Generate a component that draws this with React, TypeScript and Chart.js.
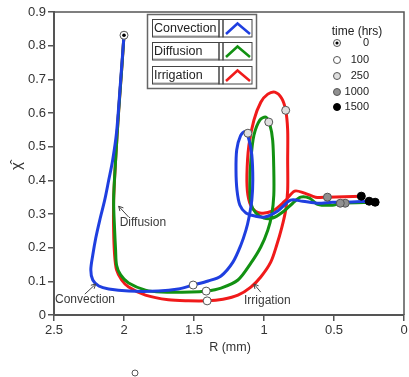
import { useEffect, useRef } from 'react';
import { Chart, registerables } from 'chart.js';

Chart.register(...registerables);

const FAMILY = "'Liberation Sans', Arial, sans-serif";

const seriesNames = ['Convection', 'Diffusion', 'Irrigation'];
const seriesColors = ['#1f3fe0', '#129112', '#f01a1a'];

// Convection (blue)
const convectionR = [2.0, 2.024, 2.053, 2.081, 2.109, 2.138, 2.173, 2.202, 2.223, 2.237, 2.223, 2.18, 2.109, 1.967, 1.754, 1.612, 1.506, 1.399, 1.307, 1.222, 1.165, 1.129, 1.108, 1.087, 1.08, 1.087, 1.108, 1.135, 1.168, 1.195, 1.2, 1.193, 1.172, 1.129, 1.065, 0.994, 0.902, 0.81, 0.724, 0.618, 0.511, 0.419, 0.249];
const convectionChi = [0.831, 0.697, 0.543, 0.46, 0.401, 0.341, 0.282, 0.228, 0.178, 0.134, 0.104, 0.086, 0.077, 0.071, 0.071, 0.077, 0.089, 0.101, 0.116, 0.157, 0.208, 0.252, 0.288, 0.341, 0.401, 0.475, 0.522, 0.545, 0.532, 0.49, 0.43, 0.371, 0.326, 0.303, 0.294, 0.291, 0.309, 0.341, 0.338, 0.332, 0.335, 0.335, 0.338];

// Diffusion (green)
const diffusionR = [2.0, 2.017, 2.038, 2.06, 2.074, 2.067, 2.06, 2.053, 2.024, 1.967, 1.847, 1.733, 1.52, 1.413, 1.307, 1.186, 1.094, 1.023, 0.973, 0.945, 0.93, 0.93, 0.938, 0.959, 0.987, 1.03, 1.072, 1.094, 1.101, 1.094, 1.058, 1.001, 0.938, 0.866, 0.795, 0.739, 0.675, 0.618, 0.511, 0.455, 0.206];
const diffusionChi = [0.831, 0.727, 0.608, 0.46, 0.341, 0.252, 0.193, 0.148, 0.119, 0.095, 0.074, 0.068, 0.068, 0.071, 0.08, 0.104, 0.154, 0.202, 0.252, 0.297, 0.356, 0.43, 0.519, 0.567, 0.588, 0.579, 0.534, 0.46, 0.386, 0.332, 0.303, 0.288, 0.288, 0.306, 0.332, 0.35, 0.347, 0.329, 0.326, 0.332, 0.335];

// Irrigation (red)
const irrigationR = [2.0, 2.017, 2.038, 2.06, 2.074, 2.074, 2.067, 2.053, 2.017, 1.967, 1.847, 1.683, 1.541, 1.406, 1.293, 1.186, 1.094, 1.023, 0.952, 0.909, 0.874, 0.845, 0.831, 0.831, 0.831, 0.845, 0.874, 0.923, 0.973, 1.023, 1.072, 1.108, 1.122, 1.115, 1.087, 1.03, 0.938, 0.852, 0.781, 0.71, 0.632, 0.547, 0.305];
const irrigationChi = [0.831, 0.727, 0.608, 0.46, 0.341, 0.252, 0.178, 0.134, 0.104, 0.083, 0.059, 0.045, 0.042, 0.042, 0.047, 0.059, 0.083, 0.113, 0.157, 0.208, 0.258, 0.312, 0.371, 0.46, 0.549, 0.608, 0.644, 0.662, 0.656, 0.632, 0.579, 0.504, 0.415, 0.356, 0.32, 0.303, 0.309, 0.338, 0.368, 0.362, 0.35, 0.35, 0.353];

// time markers (hrs)
const timeLabels = ['0', '100', '250', '1000', '1500'];
const timeFills = ['#ffffff', '#ffffff', '#dedede', '#909090', '#000000'];
const time0R = [2.0];
const time0Chi = [0.831];
const time100R = [1.506, 1.413, 1.406];
const time100Chi = [0.089, 0.071, 0.042];
const time250R = [1.115, 0.966, 0.845];
const time250Chi = [0.54, 0.573, 0.608];
const time1000R = [0.42, 0.455, 0.547];
const time1000Chi = [0.332, 0.332, 0.35];
const time1500R = [0.249, 0.206, 0.305];
const time1500Chi = [0.338, 0.335, 0.353];

// axis ticks
const xTickMin = 0;
const xTickMax = 2.5;
const xTickStep = 0.5;
const yTickMin = 0;
const yTickMax = 0.9;
const yTickStep = 0.1;
const xTitle = 'R (mm)';
const yTitle = 'χ\u0302';
const timeTitle = 'time (hrs)';

// annotations
const annotationLabels = ['Diffusion', 'Convection', 'Irrigation'];
const annotationTextR = [2.031, 2.493, 1.143];
const annotationTextChi = [0.273, 0.045, 0.042];
const arrowFromR = [1.967, 2.28, 1.023];
const arrowFromChi = [0.291, 0.062, 0.068];
const arrowToR = [2.038, 2.202, 1.072];
const arrowToChi = [0.323, 0.092, 0.092];

const toPts = (r: number[], c: number[]) => r.map((x, i) => ({ x, y: c[i] }));

function drawMarker(ctx: CanvasRenderingContext2D, x: number, y: number, idx: number, r: number) {
  ctx.beginPath();
  ctx.arc(x, y, r, 0, Math.PI * 2);
  ctx.fillStyle = timeFills[idx];
  ctx.fill();
  ctx.lineWidth = 1;
  ctx.strokeStyle = idx === 4 ? '#000' : '#555';
  ctx.stroke();
  if (idx === 0) {
    ctx.beginPath();
    ctx.arc(x, y, r * 0.45, 0, Math.PI * 2);
    ctx.fillStyle = '#000';
    ctx.fill();
  }
}

function arrow(ctx: CanvasRenderingContext2D, x1: number, y1: number, x2: number, y2: number) {
  const ang = Math.atan2(y2 - y1, x2 - x1);
  const h = 5;
  ctx.beginPath();
  ctx.moveTo(x1, y1);
  ctx.lineTo(x2, y2);
  ctx.moveTo(x2 - h * Math.cos(ang - 0.5), y2 - h * Math.sin(ang - 0.5));
  ctx.lineTo(x2, y2);
  ctx.lineTo(x2 - h * Math.cos(ang + 0.5), y2 - h * Math.sin(ang + 0.5));
  ctx.stroke();
}

const decorPlugin = {
  id: 'decor',
  beforeDraw(chart: any) {
    const { ctx, width, height } = chart;
    ctx.save();
    ctx.fillStyle = '#fff';
    ctx.fillRect(0, 0, width, height);
    ctx.restore();
  },
  afterDraw(chart: any) {
    const { ctx, chartArea: a, scales } = chart;
    const xs = scales.x;
    const ys = scales.y;
    ctx.save();
    // top and right frame
    ctx.strokeStyle = '#555';
    ctx.lineWidth = 1.5;
    ctx.beginPath();
    ctx.moveTo(a.left, a.top);
    ctx.lineTo(a.right, a.top);
    ctx.lineTo(a.right, a.bottom);
    ctx.stroke();

    // axis titles
    ctx.fillStyle = '#333';
    ctx.textAlign = 'center';
    ctx.textBaseline = 'middle';
    ctx.font = `12.5px ${FAMILY}`;
    ctx.fillText(xTitle, (a.left + a.right) / 2 + 1, 348);
    ctx.save();
    ctx.translate(17, 166);
    ctx.rotate(-Math.PI / 2);
    ctx.font = `15px ${FAMILY}`;
    ctx.fillText(yTitle, 0, 0);
    ctx.restore();

    // annotations
    ctx.font = `12px ${FAMILY}`;
    ctx.textAlign = 'left';
    ctx.fillStyle = '#3a3a3a';
    ctx.strokeStyle = '#444';
    ctx.lineWidth = 1;
    annotationLabels.forEach((t, i) => {
      ctx.fillText(t, xs.getPixelForValue(annotationTextR[i]), ys.getPixelForValue(annotationTextChi[i]));
      arrow(ctx, xs.getPixelForValue(arrowFromR[i]), ys.getPixelForValue(arrowFromChi[i]),
        xs.getPixelForValue(arrowToR[i]), ys.getPixelForValue(arrowToChi[i]));
    });

    // series legend box
    const bx = 147.5, by = 14.5, bw = 109, bh = 74;
    ctx.fillStyle = '#fff';
    ctx.fillRect(bx, by, bw, bh);
    ctx.strokeStyle = '#666';
    ctx.lineWidth = 1.5;
    ctx.strokeRect(bx, by, bw, bh);
    const rowTops = [19.5, 42.5, 66.5];
    const rowH = 17.5;
    seriesNames.forEach((name, i) => {
      const top = rowTops[i];
      ctx.lineWidth = 1;
      ctx.strokeStyle = '#444';
      ctx.strokeRect(152.5, top, 66.5, rowH);
      ctx.strokeRect(219, top, 4, rowH);
      ctx.strokeRect(223, top, 29, rowH);
      ctx.save();
      ctx.setLineDash([1, 1]);
      ctx.beginPath();
      ctx.moveTo(152.5, top + rowH - 1);
      ctx.lineTo(219, top + rowH - 1);
      ctx.stroke();
      ctx.restore();
      ctx.fillStyle = '#222';
      ctx.font = `12.5px ${FAMILY}`;
      ctx.textAlign = 'left';
      ctx.textBaseline = 'middle';
      ctx.fillText(name, 154, top + rowH / 2 + 0.5);
      ctx.strokeStyle = seriesColors[i];
      ctx.lineWidth = 2.5;
      ctx.beginPath();
      ctx.moveTo(226, top + rowH - 3);
      ctx.lineTo(237.5, top + 4);
      ctx.lineTo(250, top + rowH - 3);
      ctx.stroke();
    });

    // time legend
    ctx.fillStyle = '#222';
    ctx.font = `12px ${FAMILY}`;
    ctx.textAlign = 'center';
    ctx.fillText(timeTitle, 357, 32);
    const rowsY = [43, 60, 76, 92, 107];
    timeLabels.forEach((t, i) => {
      drawMarker(ctx, 337, rowsY[i], i, 3.5);
      ctx.fillStyle = '#222';
      ctx.font = `11px ${FAMILY}`;
      ctx.textAlign = 'right';
      ctx.fillText(t, 369, rowsY[i]);
    });

    // stray marker below the axis
    ctx.beginPath();
    ctx.arc(135, 373, 3, 0, Math.PI * 2);
    ctx.fillStyle = '#fff';
    ctx.fill();
    ctx.strokeStyle = '#555';
    ctx.lineWidth = 1;
    ctx.stroke();
    ctx.restore();
  },
};

export default function App() {
  const ref = useRef<HTMLCanvasElement>(null);
  useEffect(() => {
    const canvas = ref.current;
    if (!canvas) return;
    const lineDs = (label: string, r: number[], c: number[], color: string) => ({
      type: 'line' as const,
      label,
      data: toPts(r, c),
      borderColor: color,
      backgroundColor: color,
      borderWidth: 3,
      pointRadius: 0,
      tension: 0.3,
      fill: false,
      showLine: true,
    });
    const markerDs = (label: string, r: number[], c: number[], idx: number, radius: number, inner = false) => ({
      type: 'scatter' as const,
      label,
      data: toPts(r, c),
      pointRadius: radius,
      pointBackgroundColor: inner ? '#000' : timeFills[idx],
      pointBorderColor: inner ? '#000' : idx === 4 ? '#000' : '#555',
      pointBorderWidth: inner ? 0 : 1,
      showLine: false,
      clip: false as any,
    });
    const chart = new Chart(canvas, {
      type: 'scatter',
      data: {
        datasets: [
          markerDs('0 inner', time0R, time0Chi, 0, 1.8, true),
          markerDs('0', time0R, time0Chi, 0, 4),
          markerDs('100', time100R, time100Chi, 1, 4),
          markerDs('250', time250R, time250Chi, 2, 4),
          markerDs('1000', time1000R, time1000Chi, 3, 4),
          markerDs('1500', time1500R, time1500Chi, 4, 4),
          lineDs(seriesNames[0], convectionR, convectionChi, seriesColors[0]),
          lineDs(seriesNames[1], diffusionR, diffusionChi, seriesColors[1]),
          lineDs(seriesNames[2], irrigationR, irrigationChi, seriesColors[2]),
        ] as any,
      },
      options: {
        responsive: false,
        animation: false,
        devicePixelRatio: 1,
        layout: { padding: { left: 0, right: 2, top: 12, bottom: 0 } },
        plugins: { legend: { display: false }, tooltip: { enabled: false }, title: { display: false } },
        scales: {
          x: {
            type: 'linear',
            min: xTickMin,
            max: xTickMax,
            reverse: true,
            ticks: {
              stepSize: xTickStep,
              color: '#333',
              font: { family: FAMILY, size: 13 },
              padding: 2,
              maxRotation: 0,
              callback: (v: any) => String(Math.round(Number(v) * 10) / 10),
            },
            grid: { drawOnChartArea: false, drawTicks: true, tickLength: 6, color: '#555', lineWidth: 1.5 },
            border: { display: true, color: '#555', width: 2 },
            afterFit: (s: any) => { s.height = 62; s.paddingLeft = 0; s.paddingRight = 0; },
          },
          y: {
            type: 'linear',
            min: yTickMin,
            max: yTickMax,
            ticks: {
              stepSize: yTickStep,
              color: '#333',
              font: { family: FAMILY, size: 13 },
              padding: 2,
              callback: (v: any) => (Number(v) === 0 ? '0' : Number(v).toFixed(1)),
            },
            grid: { drawOnChartArea: false, drawTicks: true, tickLength: 6, color: '#555', lineWidth: 1.5 },
            border: { display: true, color: '#555', width: 2 },
            afterFit: (s: any) => { s.width = 54; s.paddingTop = 0; s.paddingBottom = 0; },
          },
        },
      } as any,
      plugins: [decorPlugin],
    });
    return () => chart.destroy();
  }, []);
  return (
    <div style={{ position: 'fixed', left: 0, top: 0, width: 409, height: 377, background: '#fff' }}>
      <canvas ref={ref} width={409} height={377} style={{ display: 'block', width: 409, height: 377 }} />
    </div>
  );
}
